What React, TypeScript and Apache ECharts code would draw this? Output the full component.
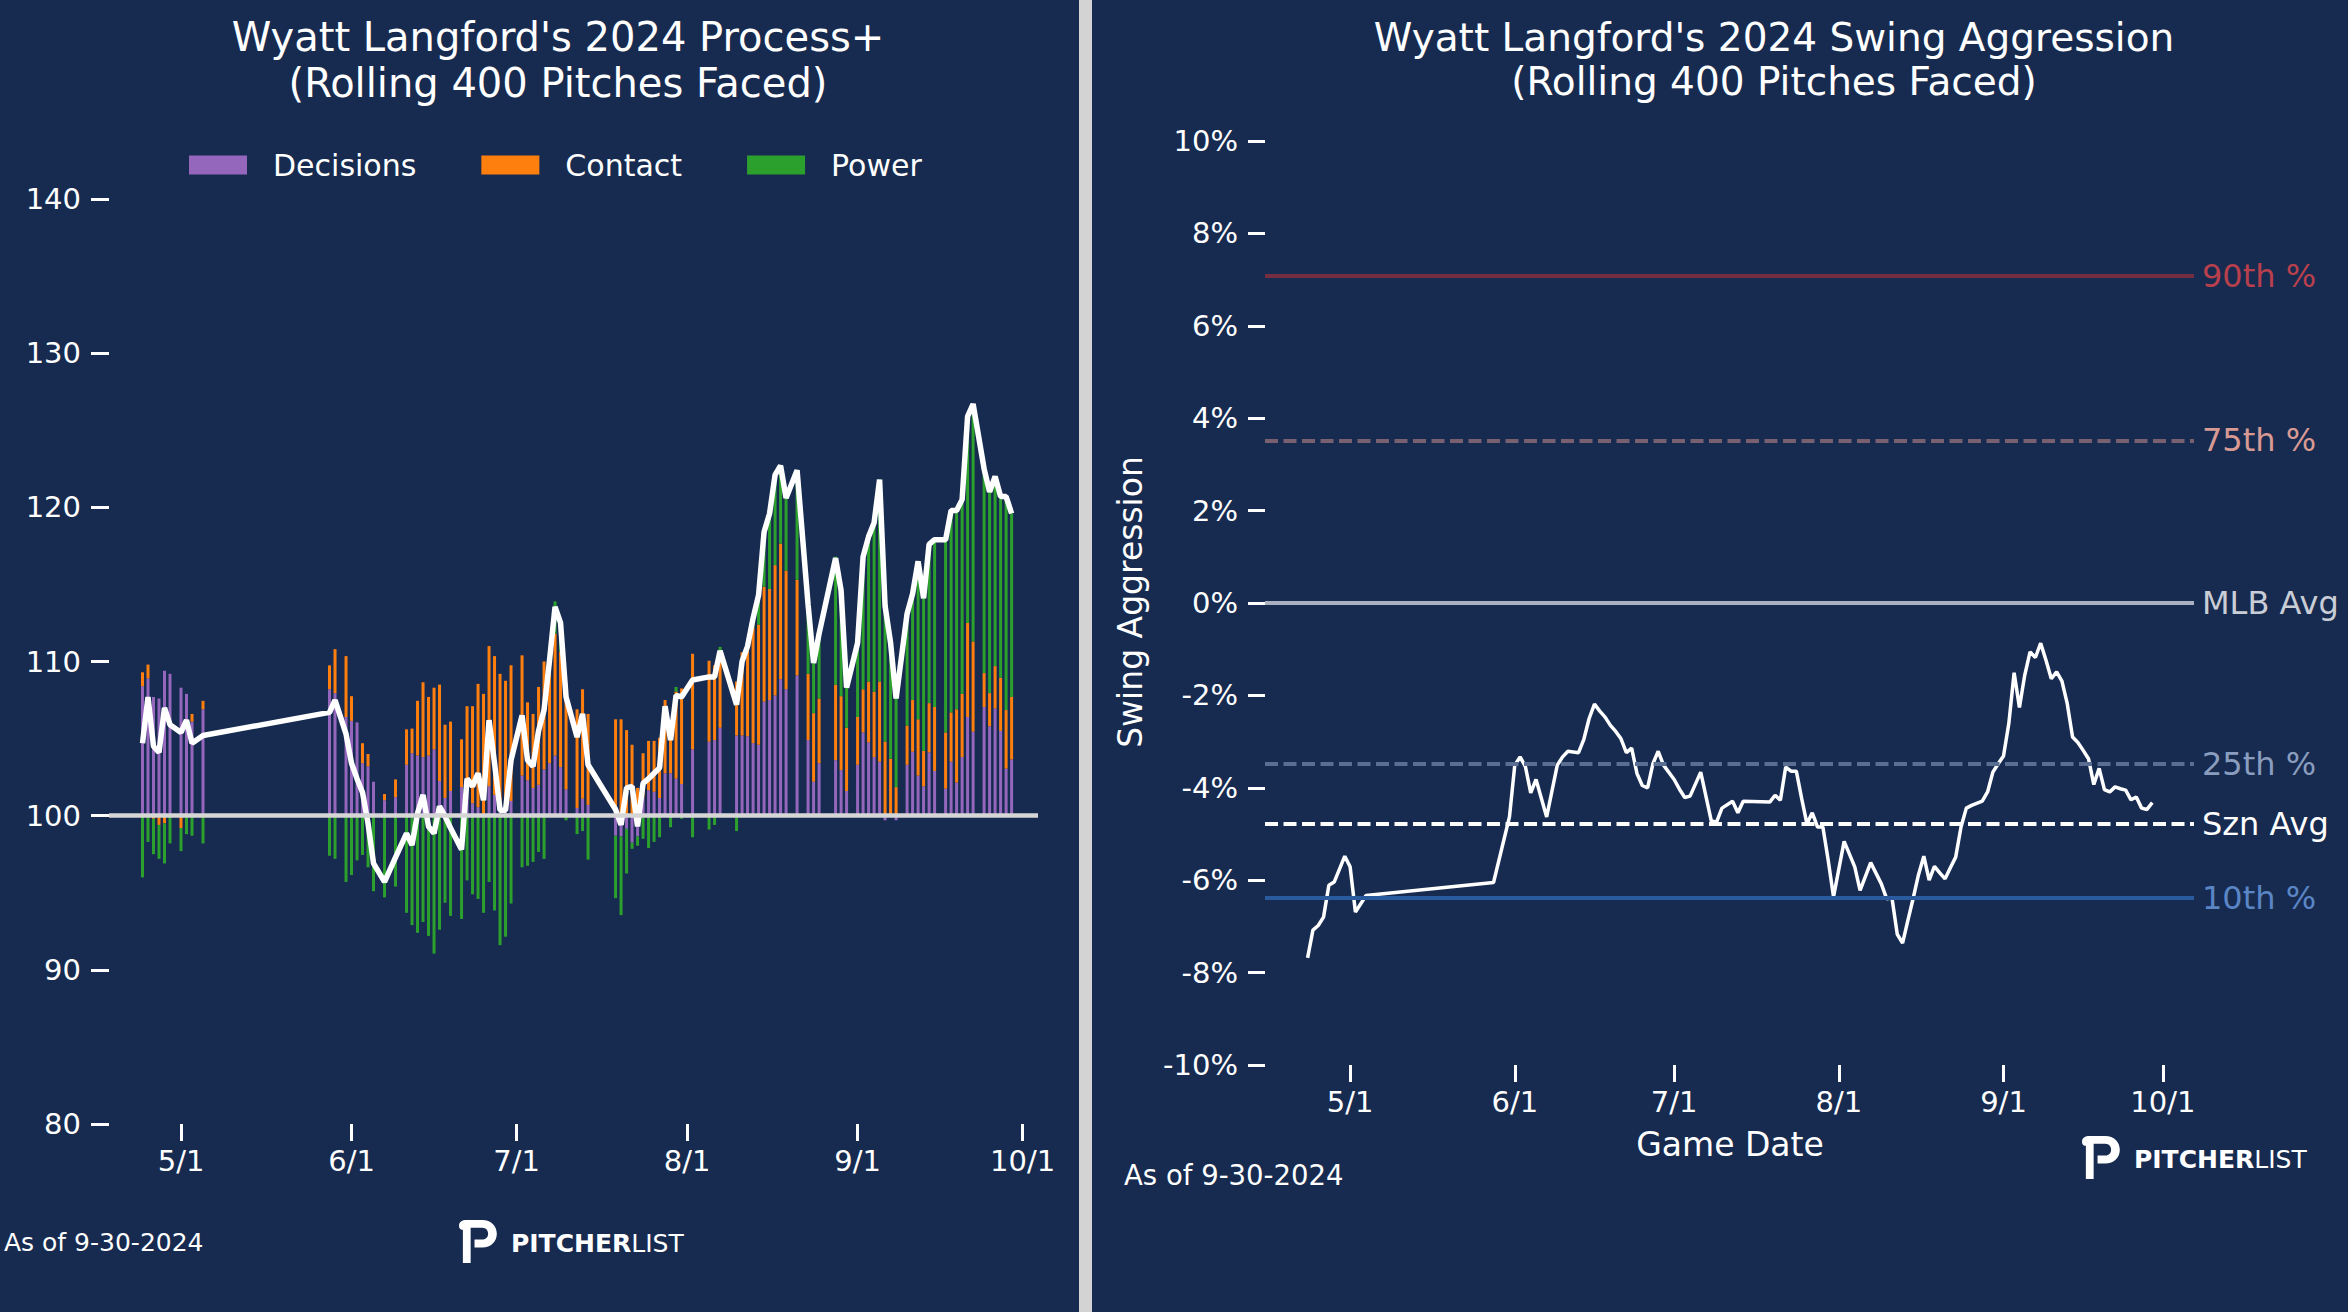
import React, { useEffect, useRef } from 'react';
import * as echarts from 'echarts';

// Process+ components are deltas from the 100 baseline
const BASE = 100;

const gameDates = [
  '2024-04-24', '2024-04-25', '2024-04-26', '2024-04-27', '2024-04-28', '2024-04-29', '2024-05-01', '2024-05-02', '2024-05-03', '2024-05-05',
  '2024-05-28', '2024-05-29', '2024-05-31', '2024-06-01', '2024-06-02', '2024-06-03', '2024-06-04', '2024-06-05', '2024-06-07', '2024-06-09',
  '2024-06-11', '2024-06-12', '2024-06-13', '2024-06-14', '2024-06-15', '2024-06-16', '2024-06-17', '2024-06-18', '2024-06-19', '2024-06-21',
  '2024-06-22', '2024-06-23', '2024-06-24', '2024-06-25', '2024-06-26', '2024-06-27', '2024-06-28', '2024-06-29', '2024-06-30', '2024-07-02',
  '2024-07-03', '2024-07-04', '2024-07-05', '2024-07-06', '2024-07-07', '2024-07-08', '2024-07-09', '2024-07-10', '2024-07-12', '2024-07-13',
  '2024-07-14', '2024-07-19', '2024-07-20', '2024-07-21', '2024-07-22', '2024-07-23', '2024-07-24', '2024-07-25', '2024-07-26', '2024-07-27',
  '2024-07-28', '2024-07-29', '2024-07-30', '2024-07-31', '2024-08-02', '2024-08-05', '2024-08-06', '2024-08-07', '2024-08-10', '2024-08-11',
  '2024-08-12', '2024-08-13', '2024-08-14', '2024-08-15', '2024-08-16', '2024-08-17', '2024-08-18', '2024-08-19', '2024-08-21', '2024-08-23',
  '2024-08-24', '2024-08-25', '2024-08-28', '2024-08-29', '2024-08-30', '2024-09-01', '2024-09-02', '2024-09-03', '2024-09-04', '2024-09-05',
  '2024-09-06', '2024-09-07', '2024-09-08', '2024-09-10', '2024-09-11', '2024-09-12', '2024-09-13', '2024-09-14', '2024-09-15', '2024-09-17',
  '2024-09-18', '2024-09-19', '2024-09-20', '2024-09-21', '2024-09-22', '2024-09-24', '2024-09-25', '2024-09-26', '2024-09-27', '2024-09-28',
  '2024-09-29',
];

const decisions = [
  8.4, 8.9, 7.7, 7.6, 9.4, 9.2, 8.3, 7.9, 6.1, 6.9,
  8.2, 7.95, 6.4, 6.15, 6.05, 3.4, 3.2, 2.2, 1.0, 1.2,
  3.3, 4.05, 3.9, 3.8, 3.9, 4.3, 2.25, 1.15, 1.6, 1.85,
  2.4, 0.8, 0.55, 0.1, 1.9, 1.35, 0.45, 0.35, 0.95, 2.6,
  2.3, 1.8, 2.0, 3.0, 3.4, 3.9, 3.15, 1.7, 0.5, 1.1,
  0.7, -1.3, -1.35, -0.85, -1.75, -1.35, 1.2, 1.65, 1.55, 1.15,
  2.75, 2.75, 2.4, 2.05, 4.3, 4.8, 4.9, 5.7, 5.2, 5.2,
  5.15, 4.7, 4.6, 7.4, 7.5, 7.8, 8.85, 8.2, 9.1, 4.9,
  2.2, 3.4, 3.6, 2.95, 1.6, 3.3, 5.4, 4.75, 3.8, 3.5,
  -0.3, 0.1, -0.3, 3.3, 4.15, 2.6, 1.9, 4.1, 2.9, 1.75,
  3.5, 2.15, 3.8, 6.4, 5.45, 7.05, 5.8, 6.95, 5.5, 3.05,
  3.65,
];

const contact = [
  0.9, 0.9, -0.2, -0.6, -0.5, 0, -0.8, 0, 0.5, 0.55,
  1.55, 2.85, 3.95, 1.6, 0, 1.3, 0.8, 0, 0.4, 1.15,
  2.3, 1.6, 3.55, 4.85, 3.8, 4.0, 6.25, 4.75, 4.5, 3.1,
  4.7, 6.3, 8.0, 7.8, 9.1, 9.0, 8.75, 8.4, 8.8, 7.8,
  5.05, 4.8, 6.35, 7.0, 6.0, 7.9, 7.5, 6.9, 6.4, 7.1,
  5.9, 6.25, 6.25, 5.55, 4.6, 1.8, 2.85, 3.2, 3.3, 3.9,
  4.75, 3.25, 5.65, 6.2, 6.2, 5.25, 4.85, 4.85, 3.5, 5.4,
  6.2, 7.5, 7.8, 7.45, 7.2, 8.45, 8.8, 7.7, 6.2, 4.3,
  4.45, 4.2, 4.9, 4.8, 4.1, 3.1, 2.8, 3.95, 4.25, 5.2,
  4.8, 3.6, 1.85, 2.55, 3.35, 3.65, 2.3, 3.2, 4.15, 3.65,
  3.2, 4.75, 4.1, 6.1, 5.85, 2.2, 2.15, 2.75, 3.45, 3.8,
  4.05,
];

const power = [
  -4.0, -1.7, -2.3, -2.2, -2.6, -1.8, -1.5, -1.2, -1.3, -1.8,
  -2.6, -2.8, -4.3, -3.85, -2.9, -2.55, -3.35, -4.9, -5.3, -4.6,
  -6.3, -7.1, -7.6, -6.9, -7.8, -8.95, -7.4, -5.65, -6.5, -6.7,
  -4.2, -5.1, -5.4, -6.3, -4.3, -6.15, -8.4, -7.85, -5.7, -3.35,
  -3.25, -3.0, -2.35, -2.8, 0.7, 2.1, 2.0, -0.3, -1.2, -1.0,
  -2.85, -4.05, -5.1, -2.9, -0.4, -0.6, -1.5, -2.1, -1.7, -1.4,
  0, -0.75, 0.3, -0.2, -1.4, -0.9, -0.6, 0.4, -1.0, -0.1,
  0, 0.5, 1.8, 3.5, 4.9, 5.85, 5.05, 4.7, 7.1, 4.5,
  3.25, 4.2, 8.3, 6.85, 2.6, 4.8, 8.6, 9.4, 10.95, 13.1,
  9.1, 7.6, 6.05, 7.25, 6.9, 10.25, 9.9, 10.3, 10.85, 12.5,
  13.1, 12.9, 12.6, 13.4, 15.4, 13.25, 13.05, 12.3, 11.75, 13.85,
  11.9,
];

const processPlus = [
  104.7, 107.7, 104.5, 104.1, 107.0, 105.9, 105.4, 106.2, 104.7, 105.2,
  106.7, 107.5, 105.3, 103.4, 102.4, 101.5, 99.5, 96.9, 95.7, 97.3,
  98.85, 98.1, 100.15, 101.35, 99.3, 98.85, 100.6, 99.95, 99.2, 97.8,
  102.4, 101.9, 102.75, 101.0, 106.2, 103.4, 100.35, 100.35, 103.6, 106.5,
  103.6, 103.2, 105.5, 106.85, 110.1, 113.55, 112.5, 107.7, 105.1, 106.6,
  103.3, 100.4, 99.4, 101.8, 101.9, 99.3, 102.1, 102.4, 102.75, 103.1,
  107.1, 104.9, 107.8, 107.7, 108.8, 109.0, 109.0, 110.7, 107.2, 110.0,
  111.0, 112.8, 114.3, 118.4, 119.6, 122.1, 122.7, 120.6, 122.4, 113.7,
  109.9, 111.8, 116.7, 114.6, 108.3, 111.2, 116.8, 118.1, 119.0, 121.8,
  113.6, 111.2, 107.6, 113.1, 114.4, 116.5, 114.1, 117.6, 117.9, 117.9,
  119.8, 119.8, 120.5, 125.9, 126.7, 122.5, 121.0, 122.0, 120.7, 120.7,
  119.6,
];

const swingDates = [
  '2024-04-23', '2024-04-24', '2024-04-25', '2024-04-26', '2024-04-27', '2024-04-28', '2024-04-30', '2024-05-01', '2024-05-02', '2024-05-04',
  '2024-05-28', '2024-05-31', '2024-06-01', '2024-06-02', '2024-06-03', '2024-06-04', '2024-06-05', '2024-06-07', '2024-06-09', '2024-06-10',
  '2024-06-11', '2024-06-13', '2024-06-14', '2024-06-15', '2024-06-16', '2024-06-17', '2024-06-18', '2024-06-19', '2024-06-20', '2024-06-21',
  '2024-06-22', '2024-06-23', '2024-06-24', '2024-06-25', '2024-06-26', '2024-06-27', '2024-06-28', '2024-06-29', '2024-07-01', '2024-07-02',
  '2024-07-03', '2024-07-04', '2024-07-06', '2024-07-08', '2024-07-09', '2024-07-10', '2024-07-12', '2024-07-13', '2024-07-14', '2024-07-19',
  '2024-07-20', '2024-07-21', '2024-07-22', '2024-07-23', '2024-07-24', '2024-07-25', '2024-07-26', '2024-07-27', '2024-07-28', '2024-07-29',
  '2024-07-30', '2024-07-31', '2024-08-02', '2024-08-04', '2024-08-05', '2024-08-07', '2024-08-09', '2024-08-10', '2024-08-11', '2024-08-12',
  '2024-08-13', '2024-08-14', '2024-08-15', '2024-08-16', '2024-08-17', '2024-08-18', '2024-08-19', '2024-08-20', '2024-08-21', '2024-08-22',
  '2024-08-23', '2024-08-24', '2024-08-25', '2024-08-26', '2024-08-28', '2024-08-29', '2024-08-30', '2024-08-31', '2024-09-01', '2024-09-02',
  '2024-09-03', '2024-09-04', '2024-09-05', '2024-09-06', '2024-09-07', '2024-09-08', '2024-09-09', '2024-09-10', '2024-09-11', '2024-09-12',
  '2024-09-13', '2024-09-14', '2024-09-15', '2024-09-16', '2024-09-17', '2024-09-18', '2024-09-19', '2024-09-20', '2024-09-21', '2024-09-22',
  '2024-09-23', '2024-09-24', '2024-09-25', '2024-09-26', '2024-09-27', '2024-09-28', '2024-09-29',
];

const swingAggression = [
  -7.68, -7.08, -6.98, -6.8, -6.11, -6.04, -5.48, -5.71, -6.69, -6.33,
  -6.05, -4.63, -3.51, -3.33, -3.54, -4.11, -3.82, -4.63, -3.51, -3.33,
  -3.21, -3.24, -2.95, -2.5, -2.19, -2.34, -2.47, -2.65, -2.78, -2.94,
  -3.24, -3.14, -3.69, -3.95, -4.0, -3.48, -3.21, -3.51, -3.82, -4.03,
  -4.21, -4.18, -3.66, -4.72, -4.74, -4.44, -4.29, -4.54, -4.29, -4.31,
  -4.16, -4.27, -3.55, -3.64, -3.64, -4.23, -4.78, -4.54, -4.85, -4.85,
  -5.57, -6.36, -5.16, -5.71, -6.22, -5.62, -6.08, -6.4, -6.38, -7.17,
  -7.36, -6.87, -6.39, -5.88, -5.48, -6.0, -5.7, -5.84, -5.97, -5.73,
  -5.5, -4.85, -4.44, -4.38, -4.29, -4.09, -3.66, -3.48, -3.31, -2.61,
  -1.51, -2.26, -1.56, -1.06, -1.18, -0.87, -1.24, -1.64, -1.49, -1.69,
  -2.18, -2.9, -3.02, -3.19, -3.37, -3.93, -3.58, -4.04, -4.09, -3.98,
  -4.02, -4.05, -4.26, -4.2, -4.44, -4.47, -4.32,
];

const refNames = ['90th %', '75th %', 'MLB Avg', '25th %', 'Szn Avg', '10th %'];
const refValues = [7.08, 3.52, 0, -3.49, -4.78, -6.39];

const seriesNames = ['Decisions', 'Contact', 'Power'];
const monthTicks = ['2024-05-01', '2024-06-01', '2024-07-01', '2024-08-01', '2024-09-01', '2024-10-01'];
const processTicks = [80, 90, 100, 110, 120, 130, 140];
const swingTicks = [-10, -8, -6, -4, -2, 0, 2, 4, 6, 8, 10];

const NAVY = '#172b50';
const FONT = 'DejaVu Sans';
const DASH = [13, 5.5];
const BAR_W = 3;
const refStyles = [
  { line: '#742e3f', text: '#b8404d', type: 'solid' },
  { line: '#786070', text: '#d99a94', type: DASH },
  { line: '#a9b0c0', text: '#c9cdd6', type: 'solid' },
  { line: '#5a6e92', text: '#8a9dbe', type: DASH },
  { line: '#ffffff', text: '#ffffff', type: DASH },
  { line: '#2b5b9f', text: '#5a86c6', type: 'solid' },
];
const barColors = ['#9467bd', '#ff7f0e', '#2ca02c'];

const LOGO_P =
  'M0 6 C0 2 3 0 8 0 L24 0 C33 0 39 6 39 14 C39 22 33 28 24 28 L16 28 L16 20 L24 20 C28 20 30 17 30 14 C30 11 28 8 24 8 L12 8 L12 44 L4 44 L4 10 C2 10 0 9 0 6 Z';
echarts.graphic.registerShape('plLogo', echarts.graphic.extendPath(LOGO_P, {}));

// dates become plain millisecond numbers on value axes
const ts = (s: string) => new Date(s.length > 10 ? s : s + 'T00:00:00').getTime();
const monthLabel = (v: number) => {
  const d = new Date(v);
  return `${d.getMonth() + 1}/${d.getDate()}`;
};

// positive parts stack upward from the baseline, negative parts downward
const stackSegments = () => {
  const up = gameDates.map(() => 0);
  const down = gameDates.map(() => 0);
  return [decisions, contact, power].map((vals) =>
    vals.map((v, j) => {
      const from = v >= 0 ? up[j] : down[j];
      const to = from + v;
      if (v >= 0) up[j] = to;
      else down[j] = to;
      return [ts(gameDates[j]), from, to];
    })
  );
};

const renderSegment = (params: any, api: any) => {
  const a = api.coord([api.value(0), api.value(1)]);
  const b = api.coord([api.value(0), api.value(2)]);
  return {
    type: 'rect',
    shape: { x: a[0] - BAR_W / 2, y: Math.min(a[1], b[1]), width: BAR_W, height: Math.abs(a[1] - b[1]) },
    style: { fill: api.visual('color') },
  };
};

const text = (t: string, x: number, y: number, size: number, align = 'center', extra: any = {}) => ({
  type: 'text',
  x,
  y,
  ...extra,
  style: {
    text: t,
    fill: '#ffffff',
    fontSize: size,
    fontFamily: FONT,
    textAlign: align,
    textVerticalAlign: 'middle',
    verticalAlign: 'middle',
  },
});

const logo = (x: number, y: number) => [
  { type: 'plLogo', x, y, scaleX: 0.97, scaleY: 0.98, style: { fill: '#ffffff' } },
  {
    type: 'text',
    x: x + 52,
    y: y + 23,
    style: {
      text: '{b|PITCHER}{l|LIST}',
      textVerticalAlign: 'middle',
      verticalAlign: 'middle',
      rich: {
        b: { fontFamily: FONT, fontWeight: 'bold', fontSize: 25, fill: '#ffffff', color: '#ffffff' },
        l: { fontFamily: FONT, fontWeight: 'normal', fontSize: 25, fill: '#ffffff', color: '#ffffff' },
      },
    },
  },
];

const tickStyle = { show: true, length: 17, lineStyle: { color: '#ffffff', width: 3 } };
const labelStyle = { color: '#ffffff', fontSize: 29, fontFamily: FONT };

const App = () => {
  const chartRef = useRef<HTMLDivElement>(null);

  useEffect(() => {
    const chart = echarts.init(chartRef.current, null, { renderer: 'svg' });
    const monthValues = monthTicks.map(ts);

    const bars = stackSegments().map((seg, i) => ({
      name: seriesNames[i],
      type: 'custom',
      xAxisIndex: 0,
      yAxisIndex: 0,
      z: 2,
      itemStyle: { color: barColors[i] },
      encode: { x: 0, y: [1, 2] },
      renderItem: renderSegment,
      data: seg,
    }));

    const dateAxis = (gridIndex: number, min: string, max: string) => ({
      type: 'value',
      gridIndex,
      min: ts(min),
      max: ts(max),
      axisLine: { show: false, onZero: false },
      splitLine: { show: false },
      axisTick: { ...tickStyle, customValues: monthValues },
      axisLabel: { ...labelStyle, margin: 22, customValues: monthValues, formatter: monthLabel },
    });

    const option = {
      animation: false,
      backgroundColor: NAVY,
      textStyle: { fontFamily: FONT },
      legend: {
        data: seriesNames,
        left: 184,
        top: 145,
        icon: 'rect',
        itemWidth: 58,
        itemHeight: 19,
        itemGap: 65,
        selectedMode: false,
        textStyle: { color: '#ffffff', fontSize: 30, fontFamily: FONT, padding: [0, 0, 0, 21] },
      },
      grid: [
        { left: 109, top: 199, width: 929, height: 925 },
        { left: 1265, top: 141, width: 929, height: 924 },
      ],
      xAxis: [
        dateAxis(0, '2024-04-17T21:50:00', '2024-10-03T19:10:00'),
        dateAxis(1, '2024-04-14T23:30:00', '2024-10-06T20:40:00'),
      ],
      yAxis: [
        {
          type: 'value',
          gridIndex: 0,
          min: processTicks[0] - BASE,
          max: processTicks[processTicks.length - 1] - BASE,
          interval: processTicks[1] - processTicks[0],
          axisLine: { show: false, onZero: false },
          splitLine: { show: false },
          axisTick: { ...tickStyle, length: 18 },
          axisLabel: { ...labelStyle, margin: 28, formatter: (v: number) => String(v + BASE) },
        },
        {
          type: 'value',
          gridIndex: 1,
          min: swingTicks[0],
          max: swingTicks[swingTicks.length - 1],
          interval: swingTicks[1] - swingTicks[0],
          axisLine: { show: false, onZero: false },
          splitLine: { show: false },
          axisTick: { ...tickStyle },
          axisLabel: { ...labelStyle, margin: 27, formatter: (v: number) => `${v}%` },
        },
      ],
      series: [
        ...bars,
        {
          name: 'baseline',
          type: 'line',
          xAxisIndex: 0,
          yAxisIndex: 0,
          data: [],
          z: 3,
          markLine: {
            silent: true,
            symbol: ['none', 'none'],
            label: { show: false },
            lineStyle: { color: '#d6d6d6', width: 4.5, type: 'solid' },
            data: [{ yAxis: BASE - BASE }],
          },
        },
        {
          name: 'Process+',
          type: 'line',
          xAxisIndex: 0,
          yAxisIndex: 0,
          z: 4,
          symbol: 'none',
          lineStyle: { color: '#ffffff', width: 5.5 },
          data: gameDates.map((d, j) => [ts(d), processPlus[j] - BASE]),
        },
        {
          name: 'refs',
          type: 'line',
          xAxisIndex: 1,
          yAxisIndex: 1,
          data: [],
          z: 2,
          markLine: {
            silent: true,
            symbol: ['none', 'none'],
            data: refNames.map((n, i) => ({
              yAxis: refValues[i],
              lineStyle: { color: refStyles[i].line, width: 4, type: refStyles[i].type },
              label: {
                show: true,
                position: 'end',
                distance: 8,
                formatter: n,
                color: refStyles[i].text,
                fontSize: 32,
                fontFamily: FONT,
              },
            })),
          },
        },
        {
          name: 'Swing Aggression',
          type: 'line',
          xAxisIndex: 1,
          yAxisIndex: 1,
          z: 3,
          symbol: 'none',
          lineStyle: { color: '#ffffff', width: 3.5 },
          data: swingDates.map((d, j) => [ts(d), swingAggression[j]]),
        },
      ],
      graphic: [
        { type: 'rect', shape: { x: 1079, y: 0, width: 13, height: 1312 }, style: { fill: '#d3d3d3' } },
        text("Wyatt Langford's 2024 Process+", 558, 37, 40),
        text('(Rolling 400 Pitches Faced)', 558, 83, 40),
        text("Wyatt Langford's 2024 Swing Aggression", 1774, 37, 39),
        text('(Rolling 400 Pitches Faced)', 1774, 81, 39),
        text('Swing Aggression', 1130, 602, 33, 'center', { rotation: Math.PI / 2 }),
        text('Game Date', 1730, 1144, 33),
        text('As of 9-30-2024', 4, 1242, 25, 'left'),
        text('As of 9-30-2024', 1124, 1175, 27.5, 'left'),
        ...logo(459, 1220),
        ...logo(2082, 1136),
      ],
    };

    chart.setOption(option as any);

    return () => {
      chart.dispose();
    };
  }, []);

  return <div ref={chartRef} style={{ position: 'absolute', left: 0, top: 0, width: 2348, height: 1312 }} />;
};

export default App;
